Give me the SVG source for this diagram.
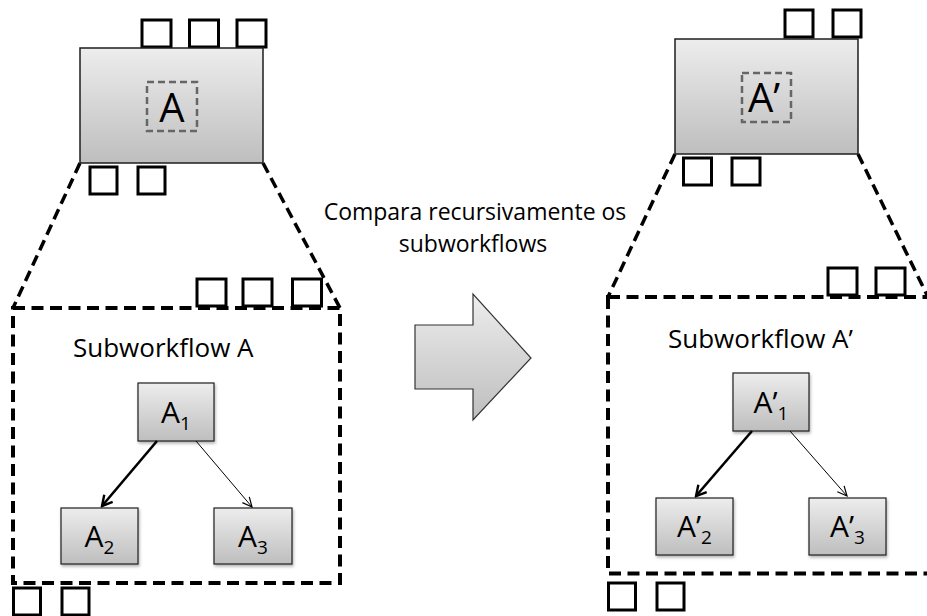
<svg xmlns="http://www.w3.org/2000/svg" width="927" height="616" viewBox="0 0 927 616">
  <style>
    .node { stroke: #1e1e1e; stroke-width: 1.5; fill: url(#grad); }
    .inner { stroke: #1e1e1e; stroke-width: 1.2; fill: url(#grad); filter: url(#shadow); }
    .port { fill: #ffffff; stroke: #000000; stroke-width: 3; }
    .frame { fill: none; stroke: #000000; stroke-width: 4; stroke-dasharray: 12 6.5; }
    .diag { fill: none; stroke: #000000; stroke-width: 3.5; stroke-dasharray: 11 6; }
    .idbox { fill: none; stroke: #666666; stroke-width: 2.5; stroke-dasharray: 7 4; }
    .lbl { font-family: "Open Sans", "Liberation Sans", sans-serif; fill: #000000; }
    .thick { stroke: #000; stroke-width: 2.6; fill: none; marker-end: url(#veeThick); }
    .thin { stroke: #000; stroke-width: 1; fill: none; marker-end: url(#veeThin); }
  </style>
  <defs>
    <linearGradient id="grad" x1="0" y1="0" x2="0" y2="1">
      <stop offset="0" stop-color="#ededed"/>
      <stop offset="1" stop-color="#bebebe"/>
    </linearGradient>
    <filter id="shadow" x="-10%" y="-10%" width="130%" height="130%">
      <feDropShadow dx="1" dy="2" stdDeviation="1.5" flood-color="#000" flood-opacity="0.3"/>
    </filter>
    <marker id="veeThick" viewBox="0 0 14 14" refX="12" refY="7" markerWidth="14" markerHeight="14" orient="auto" markerUnits="userSpaceOnUse">
      <path d="M2,1.5 L12,7 L2,12.5" fill="none" stroke="#000" stroke-width="2.4"/>
    </marker>
    <marker id="veeThin" viewBox="0 0 12 12" refX="11" refY="6" markerWidth="12" markerHeight="12" orient="auto" markerUnits="userSpaceOnUse">
      <path d="M1.5,1.5 L11,6 L1.5,10.5" fill="none" stroke="#000" stroke-width="1.2"/>
    </marker>
  </defs>

  <rect width="927" height="616" fill="#ffffff"/>

  <!-- Left side: zoom connectors (trapezoid) -->
  <g id="left-zoom-lines">
    <line class="diag" x1="80" y1="163" x2="13" y2="308"/>
    <line class="diag" x1="263" y1="163" x2="340" y2="308"/>
  </g>

  <!-- Node A -->
  <g id="node-A">
    <rect class="port" x="142" y="20" width="29" height="27"/>
    <rect class="port" x="189.5" y="20" width="29" height="27"/>
    <rect class="port" x="237" y="20" width="29" height="27"/>
    <rect class="port" x="90" y="167" width="27" height="27"/>
    <rect class="port" x="138" y="167" width="27" height="27"/>
    <rect class="node" x="80" y="48" width="183" height="115"/>
    <rect class="idbox" x="147" y="82" width="50" height="49"/>
    <text class="lbl" x="172" y="122" font-size="40" text-anchor="middle">A</text>
  </g>

  <!-- Subworkflow A -->
  <g id="subworkflow-A">
    <rect class="port" x="197" y="279" width="29" height="27"/>
    <rect class="port" x="243" y="279" width="29" height="27"/>
    <rect class="port" x="292.5" y="279" width="29" height="27"/>
    <rect class="port" x="13.5" y="588" width="27" height="27"/>
    <rect class="port" x="62" y="588" width="27" height="27"/>
    <rect class="frame" x="13" y="308" width="327" height="275"/>
    <text class="lbl" x="73" y="357" font-size="26">Subworkflow A</text>
  </g>

  <g id="node-A1">
    <rect class="inner" x="138" y="383" width="76" height="58"/>
    <text class="lbl" x="176" y="423" font-size="30" text-anchor="middle">A<tspan font-size="19" dy="7">1</tspan></text>
  </g>
  <g id="node-A2">
    <rect class="inner" x="61" y="508" width="77" height="56"/>
    <text class="lbl" x="99.5" y="547" font-size="30" text-anchor="middle">A<tspan font-size="19" dy="7">2</tspan></text>
  </g>
  <g id="node-A3">
    <rect class="inner" x="214" y="508" width="78" height="56"/>
    <text class="lbl" x="253" y="547" font-size="30" text-anchor="middle">A<tspan font-size="19" dy="7">3</tspan></text>
  </g>

  <!-- Middle: caption and block arrow -->
  <g id="caption">
    <text class="lbl" x="475" y="220" font-size="23" text-anchor="middle">Compara recursivamente os</text>
    <text class="lbl" x="473" y="252" font-size="23" text-anchor="middle">subworkflows</text>
  </g>
  <g id="block-arrow">
    <polygon points="415,325 473,325 473,294 531,358 473,420 473,389 415,389" fill="url(#grad)" stroke="#333333" stroke-width="1.2" stroke-linejoin="miter"/>
  </g>

  <!-- Right side: zoom connectors -->
  <g id="right-zoom-lines">
    <line class="diag" x1="675" y1="154" x2="608" y2="297"/>
    <line class="diag" x1="858" y1="154" x2="928" y2="297"/>
  </g>

  <!-- Node A' -->
  <g id="node-A-prime">
    <rect class="port" x="785" y="10" width="28" height="27"/>
    <rect class="port" x="833" y="10" width="28" height="27"/>
    <rect class="port" x="683.5" y="158" width="28" height="27"/>
    <rect class="port" x="732" y="158" width="28" height="27"/>
    <rect class="node" x="675" y="39" width="183" height="115"/>
    <rect class="idbox" x="742" y="73" width="49" height="49"/>
    <text class="lbl" x="764" y="112" font-size="40" text-anchor="middle">A’</text>
  </g>

  <!-- Subworkflow A' -->
  <g id="subworkflow-A-prime">
    <rect class="port" x="828" y="268" width="29" height="27"/>
    <rect class="port" x="876" y="268" width="29" height="27"/>
    <rect class="port" x="608.5" y="583" width="27" height="27"/>
    <rect class="port" x="657" y="583" width="27" height="27"/>
    <rect class="frame" x="608" y="297" width="340" height="276.5"/>
    <text class="lbl" x="668" y="348" font-size="26">Subworkflow A’</text>
  </g>

  <g id="node-A-prime-1">
    <rect class="inner" x="733" y="373" width="76" height="58"/>
    <text class="lbl" x="771" y="413" font-size="30" text-anchor="middle">A’<tspan font-size="19" dy="7">1</tspan></text>
  </g>
  <g id="node-A-prime-2">
    <rect class="inner" x="656" y="498" width="77" height="57"/>
    <text class="lbl" x="694.5" y="537" font-size="30" text-anchor="middle">A’<tspan font-size="19" dy="7">2</tspan></text>
  </g>
  <g id="node-A-prime-3">
    <rect class="inner" x="809" y="498" width="77" height="57"/>
    <text class="lbl" x="847.5" y="537" font-size="30" text-anchor="middle">A’<tspan font-size="19" dy="7">3</tspan></text>
  </g>

  <!-- Connectors -->
  <g id="connectors">
    <line class="thick" x1="157" y1="441" x2="102" y2="506"/>
    <line class="thin" x1="196" y1="441" x2="252" y2="507"/>
    <line class="thick" x1="752" y1="431" x2="696" y2="496"/>
    <line class="thin" x1="790" y1="431" x2="847" y2="496"/>
  </g>
</svg>
